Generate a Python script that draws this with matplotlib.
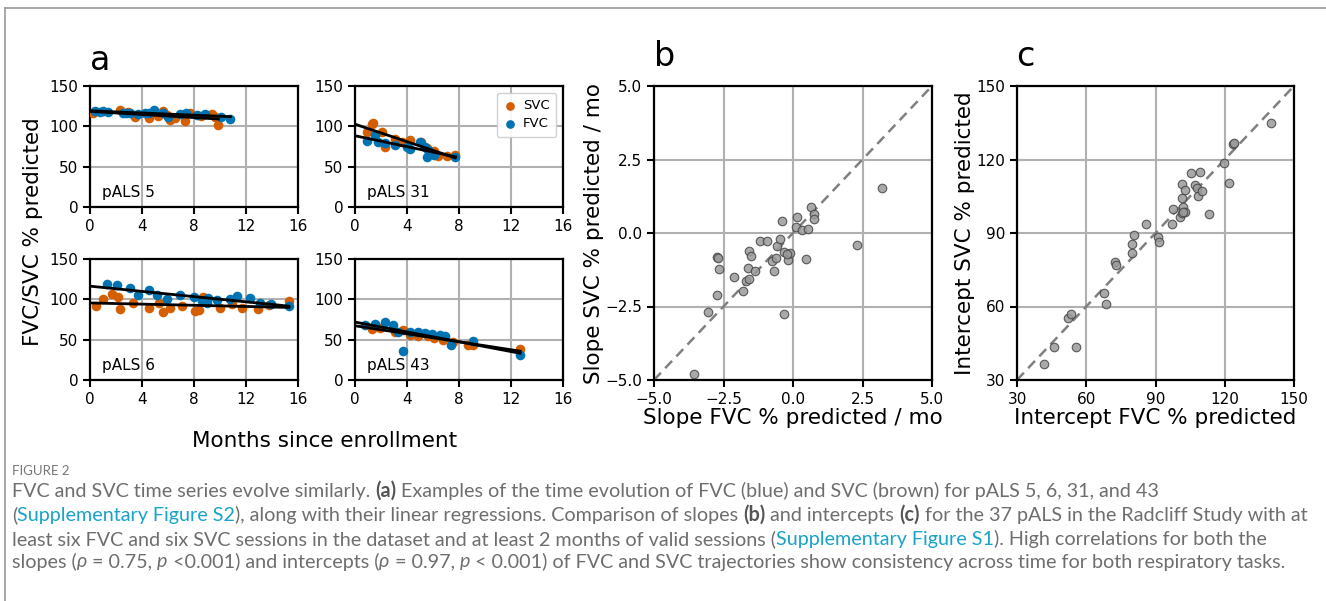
import numpy as np
import matplotlib
matplotlib.use("Agg")
import matplotlib.pyplot as plt
from matplotlib.lines import Line2D

# ---------------- data ----------------
# pALS 5
p5_fvc_t = [0.38, 0.77, 1.0, 1.4, 2.56, 2.8, 3.08, 3.7, 4.2, 4.5, 4.9, 5.6, 6.0, 6.9, 7.4, 8.2, 8.85, 10.1, 10.8]
p5_fvc_v = [119, 118, 119, 118, 116.7, 117, 116.7, 115, 116, 116.7, 120.8, 116, 112, 115, 117, 114, 115, 112, 109]
p5_svc_t = [0.26, 2.3, 2.95, 3.46, 4.5, 5.26, 5.6, 5.9, 6.15, 6.5, 7.3, 7.7, 8.5, 9.36, 9.6, 9.87]
p5_svc_v = [116.7, 120.8, 118, 112, 110, 113, 119, 114, 107.7, 110, 107, 117, 112.6, 115, 111, 101.5]
# pALS 31
p31_svc_t = [0.9, 1.28, 1.4, 2.05, 2.3, 3.07, 3.6, 4.2, 5.1, 5.5, 6.07, 6.4, 7.04, 7.7]
p31_svc_v = [93, 103.5, 104, 93, 75, 84, 81, 83, 81, 73, 69, 63, 63, 65]
p31_fvc_t = [0.9, 1.5, 1.8, 2.3, 3.07, 3.97, 4.2, 5.0, 5.4, 5.6, 5.55, 6.1, 7.73]
p31_fvc_v = [82, 89, 81, 79, 77, 75, 72, 80, 74, 71, 62, 65, 62]
# pALS 6
p6_fvc_t = [1.29, 2.06, 3.08, 3.73, 4.5, 5.14, 5.9, 6.94, 7.97, 8.6, 9.0, 9.1, 9.77, 10.8, 11.3, 12.3, 13.1, 13.9, 15.3]
p6_fvc_v = [118.6, 117.8, 114.5, 105, 111.6, 105, 100, 105, 103, 98, 95, 102, 99, 100, 104, 102, 95, 94, 91.7]
p6_svc_t = [0.46, 1.03, 1.67, 2.19, 2.31, 3.29, 4.5, 5.27, 5.6, 6.17, 7.07, 8.1, 8.4, 8.7, 10.0, 10.9, 11.7, 12.9, 13.75, 15.3]
p6_svc_v = [91.7, 101, 106, 103, 88, 95, 89.7, 95, 84, 88.8, 92, 85.5, 86.8, 103, 88.8, 93.8, 88.8, 88, 93, 98]
# pALS 43
p43_fvc_t = [0.77, 1.54, 2.3, 2.94, 3.33, 3.7, 4.2, 4.86, 5.38, 5.9, 6.5, 6.9, 7.4, 9.1, 12.7]
p43_fvc_v = [68, 70, 72, 68, 60, 36, 60, 60, 58, 57, 56, 54, 43, 48, 31]
p43_svc_t = [1.28, 1.9, 3.07, 3.66, 4.2, 4.86, 5.6, 6.1, 6.8, 7.55, 8.7, 9.1, 12.7]
p43_svc_v = [63, 64, 59, 62, 56, 54, 54, 52, 50, 47, 44, 44, 38]

# panel b: slopes
slope_fvc = [-3.55, -3.05, -2.72, -2.75, -2.69, -2.65, -2.13, -1.79, -1.69, -1.61, -1.57, -1.51,
             -1.57, -1.37, -1.19, -0.92, -0.77, -0.69, -0.62, -0.57, -0.47, -0.38, -0.33, -0.33,
             -0.17, -0.11, 0.09, 0.13, 0.31, 0.45, 0.54, 0.66, 0.76, 0.76, 2.31, 3.20, -0.22]
slope_svc = [-4.80, -2.70, -2.11, -0.80, -0.85, -1.22, -1.51, -1.96, -1.64, -1.20, -0.60, -0.77,
             -1.56, -1.30, -0.26, -0.28, -0.94, -1.28, -0.85, -0.43, -0.20, 0.40, -0.65, -2.74,
             -0.92, -0.69, 0.22, 0.54, 0.11, -0.88, 0.12, 0.88, 0.65, 0.48, -0.40, 1.53, -0.70]
# panel c: intercepts
int_fvc = [41.5, 46.2, 55.7, 51.9, 53.4, 67.8, 68.5, 72.3, 72.9, 79.9, 79.9, 80.8, 85.7, 91.1,
           91.6, 97.1, 97.4, 100.7, 101.4, 101.7, 101.4, 101.4, 102.7, 102.8, 105.4, 106.9, 107.9,
           108.2, 109.3, 110.2, 113.1, 119.7, 122.0, 123.5, 124.0, 139.9, 102.0]
int_svc = [36.4, 43.3, 43.6, 55.2, 56.9, 65.4, 61.0, 78.3, 76.8, 81.7, 85.4, 89.2, 93.7, 88.5,
           86.5, 93.7, 99.7, 96.4, 98.0, 100.7, 104.1, 110.0, 107.4, 98.4, 114.6, 109.7, 108.2,
           105.1, 115.0, 107.1, 97.8, 118.7, 110.5, 126.3, 126.9, 134.8, 98.7]

a_xticks = [0, 4, 8, 12, 16]
a_yticks = [0, 50, 100, 150]
b_ticks = [-5.0, -2.5, 0.0, 2.5, 5.0]
c_ticks = [30, 60, 90, 120, 150]

SVC_C = "#d55e00"
FVC_C = "#0173b2"
GRID_C = "#b0b0b0"
LABEL_FS = 15.5

W, H = 1326, 601
fig = plt.figure(figsize=(W / 100, H / 100), dpi=100)
fig.patch.set_facecolor("white")


def rect(l, t, r, b):
    return [l / W, 1 - b / H, (r - l) / W, (b - t) / H]


def style(ax):
    for s in ax.spines.values():
        s.set_linewidth(1.6)
        s.set_color("black")
    ax.tick_params(width=1.5, length=5, labelsize=11, color="black")
    ax.grid(True, color=GRID_C, lw=1.5)
    ax.set_axisbelow(True)


def ppanel(ax, svc_t, svc_v, fvc_t, fvc_v, name, legend=False):
    ax.scatter(svc_t, svc_v, s=48, color=SVC_C, lw=0, label="SVC", zorder=3)
    ax.scatter(fvc_t, fvc_v, s=48, color=FVC_C, lw=0, label="FVC", zorder=3)
    for t, v in ((svc_t, svc_v), (fvc_t, fvc_v)):
        k, c = np.polyfit(t, v, 1)
        xx = np.array([0, max(t)])
        ax.plot(xx, k * xx + c, color="black", lw=2.0, zorder=4)
    ax.set_xlim(0, 16)
    ax.set_ylim(0, 150)
    ax.set_xticks(a_xticks)
    ax.set_yticks(a_yticks)
    style(ax)
    ax.text(0.06, 0.08, name, transform=ax.transAxes, fontsize=11, zorder=5)
    if legend:
        ax.legend(loc="upper right", fontsize=9.5, handletextpad=0.5, borderpad=0.5,
                  handlelength=1.0, markerscale=0.9, framealpha=0.9, edgecolor="#cccccc",
                  fancybox=True, labelspacing=0.4)


ax1 = fig.add_axes(rect(90, 86, 298, 207))
ppanel(ax1, p5_svc_t, p5_svc_v, p5_fvc_t, p5_fvc_v, "pALS 5")
ax2 = fig.add_axes(rect(355, 86, 563, 207))
ppanel(ax2, p31_svc_t, p31_svc_v, p31_fvc_t, p31_fvc_v, "pALS 31", legend=True)
ax3 = fig.add_axes(rect(90, 259, 298, 380))
ppanel(ax3, p6_svc_t, p6_svc_v, p6_fvc_t, p6_fvc_v, "pALS 6")
ax4 = fig.add_axes(rect(355, 259, 563, 380))
ppanel(ax4, p43_svc_t, p43_svc_v, p43_fvc_t, p43_fvc_v, "pALS 43")

fig.text(33 / W, 1 - 232 / H, "FVC/SVC % predicted", rotation=90, fontsize=LABEL_FS,
         ha="center", va="center")
fig.text(325 / W, 1 - 441 / H, "Months since enrollment", fontsize=LABEL_FS,
         ha="center", va="center")

# panel b
axb = fig.add_axes(rect(654, 86, 932, 380))
axb.plot([-5, 5], [-5, 5], ls=(0, (4, 2.5)), color="#808080", lw=1.8, zorder=2)
axb.scatter(slope_fvc, slope_svc, s=38, facecolor="#9a9a9a", edgecolor="#444444",
            lw=0.8, alpha=0.85, zorder=3)
axb.set_xlim(-5, 5)
axb.set_ylim(-5, 5)
axb.set_xticks(b_ticks)
axb.set_yticks(b_ticks)
axb.set_xticklabels([f"{v:.1f}".replace("-", "\u2212") for v in b_ticks])
axb.set_yticklabels([f"{v:.1f}".replace("-", "\u2212") for v in b_ticks])
style(axb)
axb.set_xlabel("Slope FVC % predicted / mo", fontsize=LABEL_FS, labelpad=1)
axb.set_ylabel("Slope SVC % predicted / mo", fontsize=LABEL_FS, labelpad=1)

# panel c
axc = fig.add_axes(rect(1017, 86, 1294, 380))
axc.plot([30, 150], [30, 150], ls=(0, (4, 2.5)), color="#808080", lw=1.8, zorder=2)
axc.scatter(int_fvc, int_svc, s=38, facecolor="#9a9a9a", edgecolor="#444444",
            lw=0.8, alpha=0.85, zorder=3)
axc.set_xlim(30, 150)
axc.set_ylim(30, 150)
axc.set_xticks(c_ticks)
axc.set_yticks(c_ticks)
style(axc)
axc.set_xlabel("Intercept FVC % predicted", fontsize=LABEL_FS, labelpad=1)
axc.set_ylabel("Intercept SVC % predicted", fontsize=LABEL_FS, labelpad=1)

# panel letters
fig.text(100 / W, 1 - 60 / H, "a", fontsize=24, ha="center", va="center")
fig.text(665 / W, 1 - 57 / H, "b", fontsize=24, ha="center", va="center")
fig.text(1025 / W, 1 - 57 / H, "c", fontsize=24, ha="center", va="center")

# border
fig.add_artist(Line2D([5 / W, 5 / W], [0, 1 - 8 / H], color="#9a9a9a", lw=1.2,
                      transform=fig.transFigure))
fig.add_artist(Line2D([5 / W, 1], [1 - 8 / H, 1 - 8 / H], color="#9a9a9a", lw=1.2,
                      transform=fig.transFigure))

# caption
CAP = "#6e6e6e"
LINK = "#1aa3c8"
FAM = ["Lato", "DejaVu Sans"]
renderer = fig.canvas.get_renderer()


def width(s, **kw):
    t1 = fig.text(0, 0, "|" + s + "|", **kw)
    t2 = fig.text(0, 0, "||", **kw)
    w = t1.get_window_extent(renderer).width - t2.get_window_extent(renderer).width
    t1.remove()
    t2.remove()
    return w


line2_plain = ("(Supplementary Figure S2), along with their linear regressions. Comparison of "
               "slopes (b) and intercepts (c) for the 37 pALS in the Radcliff Study with at")
base = 11.0
fs = base * 1293.0 / width(line2_plain, fontsize=base, family=FAM)


def rich(x, y, segs):
    cx = x
    for s, kind in segs:
        kw = dict(fontsize=fs, family=FAM, color=CAP)
        if kind == "b":
            kw.update(weight="bold", color="#555555")
        elif kind == "l":
            kw.update(color=LINK)
        elif kind == "i":
            kw.update(style="italic")
        fig.text(cx / W, 1 - y / H, s, va="center", ha="left", **kw)
        cx += width(s, **kw)


fig.text(12 / W, 1 - 471 / H, "FIGURE 2", fontsize=9.5, family=FAM, color="#777777",
         va="center", ha="left")
rich(12, 491, [("FVC and SVC time series evolve similarly. ", ""), ("(a)", "b"),
               (" Examples of the time evolution of FVC (blue) and SVC (brown) for pALS 5, 6, 31, and 43", "")])
rich(12, 515, [("(", ""), ("Supplementary Figure S2", "l"),
               ("), along with their linear regressions. Comparison of slopes ", ""), ("(b)", "b"),
               (" and intercepts ", ""), ("(c)", "b"),
               (" for the 37 pALS in the Radcliff Study with at", "")])
rich(12, 539, [("least six FVC and six SVC sessions in the dataset and at least 2 months of valid sessions (", ""),
               ("Supplementary Figure S1", "l"), ("). High correlations for both the", "")])
rich(12, 562, [("slopes (", ""), ("\u03c1", "i"), (" = 0.75, ", ""), ("p", "i"),
               (" <0.001) and intercepts (", ""), ("\u03c1", "i"), (" = 0.97, ", ""), ("p", "i"),
               (" < 0.001) of FVC and SVC trajectories show consistency across time for both respiratory tasks.", "")])

fig.savefig("out.png", dpi=100, facecolor="white")
